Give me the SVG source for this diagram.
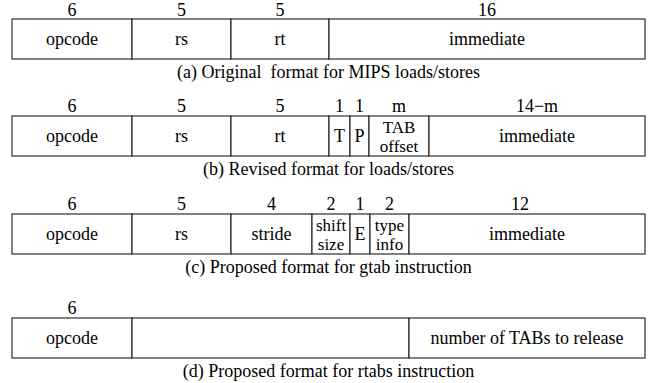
<svg xmlns="http://www.w3.org/2000/svg" width="650" height="383" viewBox="0 0 650 383">
<style>
  rect { fill: #fff; stroke: #1a1a1a; stroke-width: 1.1; }
  text { font-family: "Liberation Serif", "Times New Roman", serif; font-size: 18px; fill: #000; text-anchor: middle; }
  .sm { font-size: 17px; }
  .pre { white-space: pre; }
</style>
<rect x="0" y="0" width="650" height="383" style="stroke:none"/>
<g id="row-a">
  <g id="a-opcode"><text x="72" y="16">6</text><rect x="12" y="19" width="120" height="40"/><text x="72" y="45">opcode</text></g>
  <g id="a-rs"><text x="181.5" y="16">5</text><rect x="132" y="19" width="99" height="40"/><text x="181.5" y="45">rs</text></g>
  <g id="a-rt"><text x="280" y="16">5</text><rect x="231" y="19" width="98" height="40"/><text x="280" y="45">rt</text></g>
  <g id="a-imm"><text x="487" y="16">16</text><rect x="329" y="19" width="316" height="40"/><text x="487" y="45">immediate</text></g>
  <text class="pre" xml:space="preserve" x="328.5" y="78">(a) Original  format for MIPS loads/stores</text>
</g>
<g id="row-b">
  <g id="b-opcode"><text x="72" y="112">6</text><rect x="12" y="116" width="120" height="40"/><text x="72" y="142">opcode</text></g>
  <g id="b-rs"><text x="181.5" y="112">5</text><rect x="132" y="116" width="99" height="40"/><text x="181.5" y="142">rs</text></g>
  <g id="b-rt"><text x="280" y="112">5</text><rect x="231" y="116" width="98" height="40"/><text x="280" y="142">rt</text></g>
  <g id="b-t"><text x="339.5" y="112">1</text><rect x="329" y="116" width="21" height="40"/><text x="339.5" y="142">T</text></g>
  <g id="b-p"><text x="359.5" y="112">1</text><rect x="350" y="116" width="19" height="40"/><text x="359.5" y="142">P</text></g>
  <g id="b-tab"><text x="399" y="112">m</text><rect x="369" y="116" width="60" height="40"/><text class="sm" x="399" y="133">TAB</text><text class="sm" x="399" y="152">offset</text></g>
  <g id="b-imm"><text x="537" y="112">14−m</text><rect x="429" y="116" width="216" height="40"/><text x="537" y="142">immediate</text></g>
  <text x="328.5" y="175">(b) Revised format for loads/stores</text>
</g>
<g id="row-c">
  <g id="c-opcode"><text x="72" y="210">6</text><rect x="12" y="214" width="120" height="40"/><text x="72" y="240">opcode</text></g>
  <g id="c-rs"><text x="181.5" y="210">5</text><rect x="132" y="214" width="99" height="40"/><text x="181.5" y="240">rs</text></g>
  <g id="c-stride"><text x="271.5" y="210">4</text><rect x="231" y="214" width="81" height="40"/><text x="271.5" y="240">stride</text></g>
  <g id="c-shift"><text x="331" y="210">2</text><rect x="312" y="214" width="38" height="40"/><text class="sm" x="331" y="231">shift</text><text class="sm" x="331" y="250">size</text></g>
  <g id="c-e"><text x="360" y="210">1</text><rect x="350" y="214" width="20" height="40"/><text x="360" y="240">E</text></g>
  <g id="c-type"><text x="389.5" y="210">2</text><rect x="370" y="214" width="39" height="40"/><text class="sm" x="389.5" y="231">type</text><text class="sm" x="389.5" y="250">info</text></g>
  <g id="c-imm"><text x="520" y="210">12</text><rect x="409" y="214" width="236" height="40"/><text x="527" y="240">immediate</text></g>
  <text x="328.5" y="273">(c) Proposed format for gtab instruction</text>
</g>
<g id="row-d">
  <g id="d-opcode"><text x="72" y="314">6</text><rect x="12" y="318" width="120" height="40"/><text x="72" y="344">opcode</text></g>
  <g id="d-unused"><rect x="132" y="318" width="277" height="40"/></g>
  <g id="d-num"><rect x="409" y="318" width="236" height="40"/><text x="527" y="344">number of TABs to release</text></g>
  <text x="328.5" y="377">(d) Proposed format for rtabs instruction</text>
</g>
</svg>
